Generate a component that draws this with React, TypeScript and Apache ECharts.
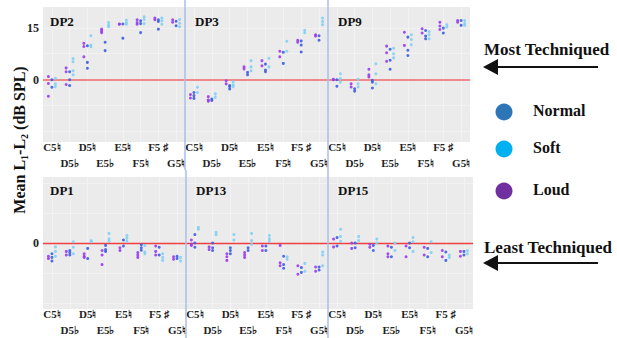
import React, { useEffect, useRef } from 'react';
import * as echarts from 'echarts';

// ---------- data ----------
const NOTES = ['C5♮', 'D5♭', 'D5♮', 'E5♭', 'E5♮', 'F5♮', 'F5 ♯', 'G5♮'];
const CONDITIONS = ['Loud', 'Normal', 'Soft'];
const LEGEND_ORDER = ['Normal', 'Soft', 'Loud'];
const TOP_TICK_LABELS = [0, 15];
const BOTTOM_TICK_LABELS = [0];

// values per note (C5 ... G5), several repetitions each
const dp2Loud = [[0.9, -1.1, -4.8], [3.4, 2.3, -1.4], [10.5, 9.6, 6.6], [14.6, 13.6, 14.1], [16.1, 16.0], [17.3, 16.5, 16.0], [17.8, 17.3], [17.3, 16.6]];
const dp2Normal = [[0, -2.2], [2.3, 0, -1.7], [9.8, 5.0, 3.3], [10.8, 8.4], [16.1, 12.0], [17.0, 16.2, 13.6], [17.3, 16.8, 14.6], [16.9, 15.6]];
const dp2Soft = [[0.4, -1.2, -2.0], [6.1, 5.2, 2.6, 1.4], [12.7, 10.0, 9.5], [16.5, 15.8, 15.3], [17.2, 16.4, 16.0], [18.2, 17.4, 16.2], [17.8, 17.0, 16.0], [17.4, 16.3, 15.3]];

const dp3Loud = [[-4.3, -5.3], [-4.9, -5.9, -6.2], [-0.3, -1.2], [3.7, 3.1], [5.5, 4.0], [8.2, 6.6], [11.4, 10.8], [13.0, 12.6]];
const dp3Normal = [[-3.7, -4.6, -5.4], [-5.6, -6.0], [-1.7, -2.7, -2.0], [2.1, 1.4], [4.5, 2.8, 2.3], [7.9, 4.7], [11.2, 10.0, 8.0], [12.7, 11.4]];
const dp3Soft = [[-2.2, -3.7], [-4.1, -5.1], [-0.6, -1.5, -2.0], [5.5, 3.7, 2.6], [6.2, 3.7], [11.1, 8.2], [14.3, 13.6], [17.8, 16.8, 15.9]];

const dp9Loud = [[0, 0.1], [-1.2, -2.1], [3.0, 1.4, 0.8], [9.7, 7.8, 5.3], [13.7, 9.9], [14.7, 13.5], [16.6, 15.5, 14.5], [17.1, 16.6]];
const dp9Normal = [[0, -1.9], [-2.6, -3.3], [-0.2, -0.7, -2.4], [8.8, 5.6, 3.0], [12.3, 8.5, 7.0], [14.2, 12.6, 11.8], [14.9, 13.5], [17.1, 15.7]];
const dp9Soft = [[1.7, 0.3, -0.7], [0.1, -1.2, -2.1], [4.6, 1.7, -1.2], [9.1, 7.5, 6.3], [13.0, 11.6, 10.1], [13.9, 13.0, 11.8], [15.2, 15.9], [17.1, 16.2, 15.7]];

const dp1Loud = [[-2.2, -2.6], [-1.4, -2.0], [-1.8, -2.2, -2.4], [-1.25, -2.0, -3.6], [-0.8, -1.25], [-1.6, -2.0, -2.4], [-0.5, -1.4, -2.0], [-2.3, -2.7]];
const dp1Normal = [[-1.8, -2.4, -3.0], [-1.25, -1.6, -2.0], [-0.9, -2.6], [-0.4, -1.1, -1.4], [0.5, -0.5], [-0.3, -0.8, -1.2], [-0.7, -2.0], [-2.2, -2.6]];
const dp1Soft = [[-0.65, -1.4, -2.2], [0.2, -0.7, -1.8], [0.4, 0.2], [1.6, 0.7, 0.3], [1.25, 0.8, 0.3], [-0.4, -1.5, -1.8], [-1.8, -2.4, -2.9], [-2.4, -3.0]];

const dp13Loud = [[0.5, -0.2, -0.4], [-0.65, -1.1], [-1.8, -2.3, -2.9], [-1.6, -2.0, -2.4], [-0.5, -1.25], [-0.4, -3.3, -3.8], [-3.8, -5.2], [-4.0, -4.7]];
const dp13Normal = [[1.4, 0, -0.7], [0, -0.8, -1.25], [-0.8, -1.25, -1.8], [-0.8, -1.25], [-0.5, -1.25], [-2.2, -3.6, -4.2], [-4.1, -4.9], [-4.0, -4.5]];
const dp13Soft = [[2.6, 2.3], [1.8, 1.4], [1.4, 0.5], [1.6, 0.4, -0.2], [1.25, 0.7, 0.3], [-2.3, -2.7], [-3.4, -4.7], [-1.5, -2.0, -3.8]];

const dp15Loud = [[0.65, -0.65], [0, -0.9], [-0.2, -0.7], [-0.5, -1.8, -2.3], [-0.5, -2.3], [-0.7, -2.0], [-1.25, -2.3], [-1.4, -2.2]];
const dp15Normal = [[0.9, -0.5], [0, -0.8], [-0.4, -1.25], [-0.7, -2.3], [0, -0.8], [-0.9, -2.3], [-1.5, -2.9], [-1.4, -2.0]];
const dp15Soft = [[2.3, 1.1, 0.3], [1.1, 0.4], [0.65, 0], [0, -1.25], [0.9, 0.2, -1.4], [0.2, -1.6], [-2.0, -2.4], [-1.25, -1.8]];

const PANEL_NAMES = ['DP2', 'DP3', 'DP9', 'DP1', 'DP13', 'DP15'];
const PANEL_SERIES: Record<string, number[][][]> = {
  DP2: [dp2Loud, dp2Normal, dp2Soft],
  DP3: [dp3Loud, dp3Normal, dp3Soft],
  DP9: [dp9Loud, dp9Normal, dp9Soft],
  DP1: [dp1Loud, dp1Normal, dp1Soft],
  DP13: [dp13Loud, dp13Normal, dp13Soft],
  DP15: [dp15Loud, dp15Normal, dp15Soft],
};

// ---------- style / layout ----------
const SERIF = "'Liberation Serif', 'Times New Roman', serif";
const POINT_COLORS: Record<string, string> = { Loud: '#9a3cf0', Normal: '#3d5fe2', Soft: '#82cff2' };
const LEGEND_COLORS: Record<string, string> = { Normal: '#2e75b6', Soft: '#00b0f0', Loud: '#7030a0' };
const OFFSETS: Record<string, number> = { Loud: -3.5, Normal: 0, Soft: 3.5 };
const LAYOUT = [
  { left: 43, top: 7, width: 142, height: 135 },
  { left: 185, top: 7, width: 143, height: 135 },
  { left: 328, top: 7, width: 142, height: 135 },
  { left: 43, top: 177, width: 143, height: 135 },
  { left: 186, top: 177, width: 142, height: 135 },
  { left: 328, top: 177, width: 145, height: 135 },
];

export default function App() {
  const ref = useRef<HTMLDivElement>(null);
  useEffect(() => {
    if (!ref.current) return;
    const chart = echarts.init(ref.current, null, { renderer: 'svg' });

    const grids = LAYOUT.map((l) => ({
      ...l,
      show: true,
      backgroundColor: '#ebebeb',
      borderWidth: 0,
    }));

    const xAxes = PANEL_NAMES.map((_, p) => ({
      type: 'category',
      gridIndex: p,
      data: NOTES,
      boundaryGap: true,
      axisLine: { show: false },
      axisTick: { show: false },
      splitLine: { show: false },
      axisLabel: {
        interval: 0,
        margin: -3,
        fontFamily: SERIF,
        fontWeight: 'bold',
        fontSize: 11,
        lineHeight: 16,
        color: '#222',
        formatter: (v: string, i: number) => (i % 2 ? '\n' + v : v),
      },
    }));

    const yAxes = PANEL_NAMES.map((_, p) => {
      const top = p < 3;
      const labels = top ? TOP_TICK_LABELS : BOTTOM_TICK_LABELS;
      return {
        type: 'value',
        gridIndex: p,
        min: top ? -18 : -11,
        max: top ? 21 : 11,
        interval: top ? 3 : 11,
        axisLine: { show: false },
        axisTick: { show: false },
        splitLine: { show: false },
        axisLabel: {
          show: p === 0 || p === 3,
          margin: 4,
          fontFamily: SERIF,
          fontWeight: 'bold',
          fontSize: 12,
          color: '#222',
          formatter: (v: number) => (labels.includes(v) ? String(v) : ''),
        },
      };
    });

    const series: any[] = [];
    PANEL_NAMES.forEach((name, p) => {
      const top = p < 3;
      const gridVals = top ? [-15, -7.5, 7.5, 15] : [-10, -5, 5, 10];
      series.push({
        type: 'scatter',
        xAxisIndex: p,
        yAxisIndex: p,
        data: [],
        silent: true,
        z: 0,
        markLine: {
          silent: true,
          symbol: 'none',
          z: 0,
          label: { show: false },
          lineStyle: { color: '#f4f4f4', width: 0.8, type: 'solid' },
          data: [
            ...gridVals.map((v) => ({ yAxis: v })),
            ...NOTES.map((n) => ({ xAxis: n })),
          ],
        },
      });
      series.push({
        type: 'scatter',
        xAxisIndex: p,
        yAxisIndex: p,
        data: [],
        silent: true,
        z: 1,
        markLine: {
          silent: true,
          symbol: 'none',
          z: 1,
          label: { show: false },
          lineStyle: { color: top ? '#f08a8a' : '#ee4040', width: top ? 2 : 1.3, type: 'solid' },
          data: [{ yAxis: 0 }],
        },
      });
      CONDITIONS.forEach((c, ci) => {
        const vals = PANEL_SERIES[name][ci];
        const data: any[] = [];
        vals.forEach((arr, i) => arr.forEach((v) => data.push([i, v])));
        series.push({
          type: 'scatter',
          name: c,
          xAxisIndex: p,
          yAxisIndex: p,
          z: 5,
          data,
          symbol: 'circle',
          symbolSize: 3,
          symbolOffset: [OFFSETS[c], 0],
          itemStyle: { color: POINT_COLORS[c], opacity: 0.9 },
        });
      });
    });

    const graphic: any[] = [];
    // panel dividers
    const dividers = [
      [185, 0, 170], [328, 0, 170], [186, 170, 338], [328, 170, 338],
    ];
    dividers.forEach(([x, y1, y2]) =>
      graphic.push({
        type: 'line',
        shape: { x1: x, y1, x2: x, y2 },
        style: { stroke: '#a9bfe8', lineWidth: 1.5 },
        z: 50,
      })
    );
    // panel titles
    PANEL_NAMES.forEach((name, p) => {
      const l = LAYOUT[p];
      graphic.push({
        type: 'text',
        x: l.left + (p === 0 || p === 3 ? 7 : 10),
        y: l.top + (p < 3 ? 14 : 13),
        style: {
          text: name,
          fontFamily: SERIF,
          fontWeight: 'bold',
          fontSize: 13,
          fill: '#111',
          textVerticalAlign: 'middle',
        },
        z: 60,
      });
    });
    // y axis title
    graphic.push({
      type: 'text',
      x: 19,
      y: 140,
      rotation: Math.PI / 2,
      style: {
        text: '{a|Mean L}{s|1}{a|-L}{s|2}{a| (dB SPL)}',
        rich: {
          a: { fontFamily: SERIF, fontWeight: 'bold', fontSize: 16, lineHeight: 20, fill: '#111' },
          s: { fontFamily: SERIF, fontWeight: 'bold', fontSize: 10, lineHeight: 20, fill: '#111', verticalAlign: 'bottom', padding: [6, 0, 0, 0] },
        },
        textAlign: 'center',
        textVerticalAlign: 'middle',
      },
      z: 60,
    });
    // right annotations
    const annot = [
      { text: 'Most Techniqued', y: 49, arrowY: 67 },
      { text: 'Least Techniqued', y: 247, arrowY: 263 },
    ];
    annot.forEach((a) => {
      graphic.push({
        type: 'text',
        x: 484,
        y: a.y,
        style: { text: a.text, fontFamily: SERIF, fontWeight: 'bold', fontSize: 17, fill: '#111', textVerticalAlign: 'middle' },
      });
      graphic.push({
        type: 'line',
        shape: { x1: 495, y1: a.arrowY, x2: 598, y2: a.arrowY },
        style: { stroke: '#111', lineWidth: 1.8 },
      });
      graphic.push({
        type: 'polygon',
        shape: { points: [[483, a.arrowY], [498, a.arrowY - 8], [498, a.arrowY + 8]] },
        style: { fill: '#111' },
      });
    });
    // legend
    const legendY: Record<string, number> = { Normal: 112, Soft: 149, Loud: 191 };
    LEGEND_ORDER.forEach((c) => {
      graphic.push({
        type: 'circle',
        shape: { cx: 504, cy: legendY[c], r: 8.5 },
        style: { fill: LEGEND_COLORS[c] },
      });
      graphic.push({
        type: 'text',
        x: 533,
        y: legendY[c] - 2,
        style: { text: c, fontFamily: SERIF, fontWeight: 'bold', fontSize: 16, fill: '#111', textVerticalAlign: 'middle' },
      });
    });

    chart.setOption({
      animation: false,
      backgroundColor: '#ffffff',
      grid: grids,
      xAxis: xAxes,
      yAxis: yAxes,
      series,
      graphic,
    });
    return () => chart.dispose();
  }, []);

  return (
    <div
      ref={ref}
      style={{ position: 'fixed', left: 0, top: 0, width: 617, height: 338 }}
    />
  );
}
